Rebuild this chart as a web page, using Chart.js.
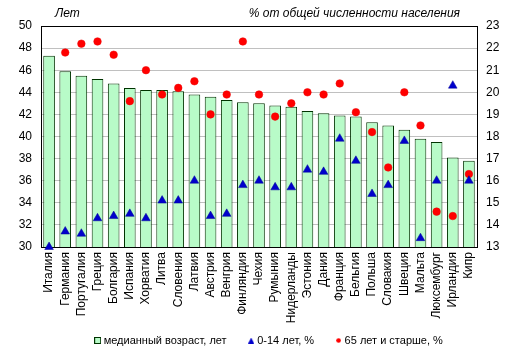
<!DOCTYPE html>
<html><head><meta charset="utf-8">
<script src="https://cdn.jsdelivr.net/npm/chart.js@4"></script>
<style>html,body{margin:0;padding:0;background:#fff}</style>
</head><body>
<canvas id="c" width="516" height="356"></canvas>
<script>
const categories = ['Италия','Германия','Португалия','Греция','Болгария','Испания','Хорватия','Литва','Словения','Латвия','Австрия','Венгрия','Финляндия','Чехия','Румыния','Нидерланды','Эстония','Дания','Франция','Бельгия','Польша','Словакия','Швеция','Мальта','Люксембург','Ирландия','Кипр'];
const medianAge = [47.3,45.9,45.5,45.2,44.8,44.4,44.2,44.2,44.1,43.8,43.6,43.3,43.1,43.0,42.8,42.7,42.3,42.1,41.9,41.8,41.3,41.0,40.6,39.8,39.5,38.1,37.8];
const share0to14 = [13.0,13.7,13.6,14.3,14.4,14.5,14.3,15.1,15.1,16.0,14.4,14.5,15.8,16.0,15.7,15.7,16.5,16.4,17.9,16.9,15.4,15.8,17.8,13.4,16.0,20.3,16.0];
const share65plus = [null,21.8,22.2,22.3,21.7,19.6,21.0,19.9,20.2,20.5,19.0,19.9,22.3,19.9,18.9,19.5,20.0,19.9,20.4,19.1,18.2,16.6,20.0,18.5,14.6,14.4,16.3];
const seriesNames = ['медианный возраст, лет','0-14 лет, %','65 лет и старше, %'];
const titleLeft = 'Лет';
const titleRight = '% от общей численности населения';

const FONT = '"Liberation Sans", Arial, sans-serif';
const barFill = '#b8fbc8', barBorder = '#003300', triColor = '#0000cc', dotColor = '#ff0000';

function mk(w,h,draw){const c=document.createElement('canvas');c.width=w;c.height=h;draw(c.getContext('2d'));return c;}
const legendIcons = [
  mk(7,7,x=>{x.fillStyle=barFill;x.fillRect(0,0,7,7);x.strokeStyle=barBorder;x.lineWidth=1;x.strokeRect(0.5,0.5,6,6);}),
  mk(6,6,x=>{x.fillStyle=triColor;x.beginPath();x.moveTo(3,0);x.lineTo(6,6);x.lineTo(0,6);x.closePath();x.fill();}),
  mk(5,5,x=>{x.fillStyle=dotColor;x.beginPath();x.arc(2.5,2.5,2.3,0,Math.PI*2);x.fill();})
];

const titlesPlugin = {
  id:'titles',
  afterLayout(chart){
    // let rotated category labels use the space down to the legend text, and centre the legend like the original
    const x = chart.scales.x;
    x.bottom = chart.height; x.height = x.bottom - x.top;
    const lg = chart.legend;
    if (lg) { lg.left = 24; lg.width = lg.right - lg.left; }
  },
  afterDraw(chart){
    const c = chart.ctx, a = chart.chartArea;
    c.save();
    c.font = 'italic 12px ' + FONT;
    c.fillStyle = '#000';
    c.textBaseline = 'middle';
    c.textAlign = 'left';
    c.fillText(titleLeft, a.left + 14, 14);
    c.textAlign = 'right';
    c.fillText(titleRight, a.right - 17, 14);
    c.restore();
  }
};

new Chart(document.getElementById('c'), {
  type: 'bar',
  data: {
    labels: categories,
    datasets: [
      {label: seriesNames[0], data: medianAge, backgroundColor: barFill, borderColor: barBorder, borderWidth: 1,
       barPercentage: 0.72, categoryPercentage: 1, yAxisID: 'y', order: 3, pointStyle: 'rect'},
      {type: 'line', label: seriesNames[1], data: share0to14, showLine: false, pointStyle: 'triangle', pointRadius: 5,
       pointBackgroundColor: triColor, pointBorderColor: '#000099', pointBorderWidth: 0.5, yAxisID: 'y2', order: 1, clip: false},
      {type: 'line', label: seriesNames[2], data: share65plus, showLine: false, pointStyle: 'circle', pointRadius: 3.8,
       pointBackgroundColor: dotColor, pointBorderColor: '#ee0000', pointBorderWidth: 0.5, yAxisID: 'y2', order: 2, clip: false}
    ]
  },
  options: {
    responsive: false,
    animation: false,
    events: [],
    layout: {padding: {left: 0, top: 26, right: 0, bottom: 0}},
    plugins: {
      tooltip: {enabled: false},
      legend: {
        position: 'bottom',
        labels: {
          usePointStyle: true, pointStyleWidth: 1, boxHeight: 7, padding: 24,
          color: '#000', font: {family: FONT, size: 11},
          sort: (a,b) => a.datasetIndex - b.datasetIndex,
          generateLabels(chart){
            const items = Chart.defaults.plugins.legend.labels.generateLabels(chart);
            items.forEach(it => { it.pointStyle = legendIcons[it.datasetIndex]; });
            return items;
          }
        }
      }
    },
    scales: {
      x: {
        grid: {display: false, drawTicks: false},
        border: {display: true, color: '#000', width: 1},
        ticks: {autoSkip: false, minRotation: 90, maxRotation: 90, padding: 5, color: '#000', font: {family: FONT, size: 12}},
        afterFit(s){ s.height = 64; }
      },
      y: {
        position: 'left', min: 30, max: 50,
        ticks: {stepSize: 2, padding: 9, color: '#000', font: {family: FONT, size: 12}},
        grid: {drawTicks: false, color: ctx => (ctx.tick && ctx.tick.value === 50) ? '#000' : '#c0c0c0', lineWidth: 1},
        border: {display: true, color: '#000', width: 1},
        afterFit(s){ s.width = 41; }
      },
      y2: {
        position: 'right', min: 13, max: 23,
        ticks: {stepSize: 1, padding: 9, color: '#000', font: {family: FONT, size: 12}},
        grid: {display: false, drawTicks: false},
        border: {display: true, color: '#000', width: 1},
        afterFit(s){ s.width = 39; }
      }
    }
  },
  plugins: [titlesPlugin]
});
</script>
</body></html>
